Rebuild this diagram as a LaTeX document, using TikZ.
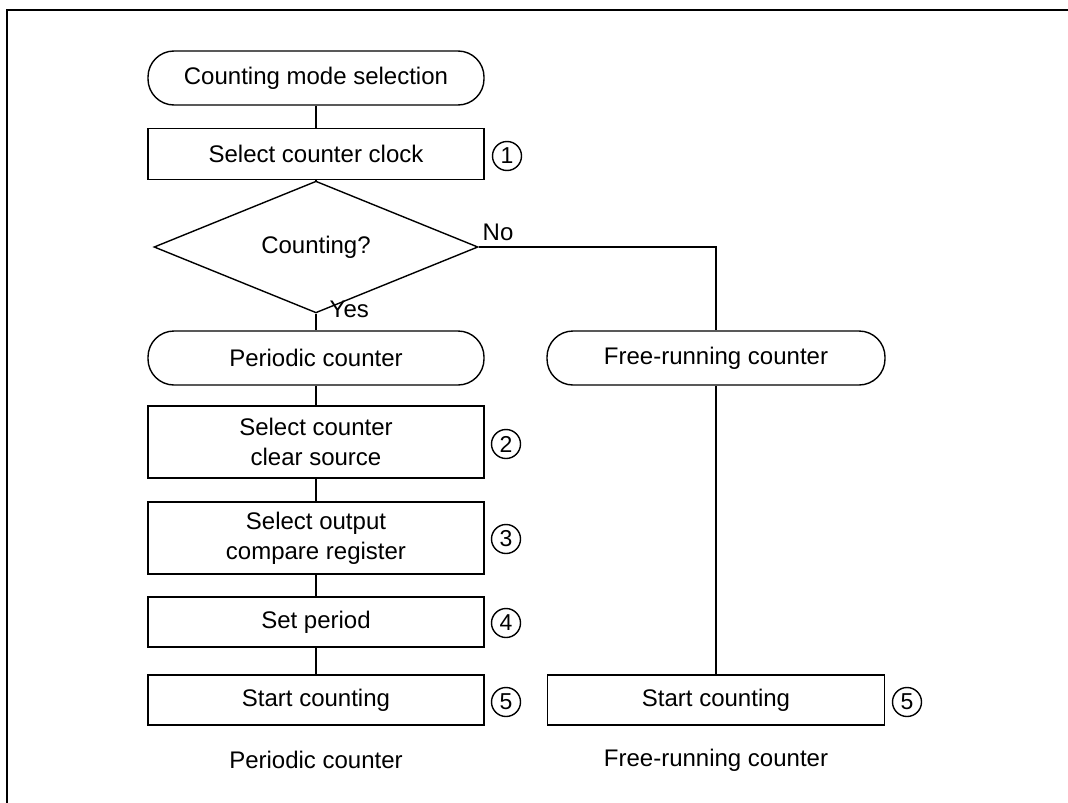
\documentclass[tikz,border=0pt]{standalone}
\usepackage{fontspec}
\setmainfont{Liberation Sans}
\usetikzlibrary{shapes.geometric}
\begin{document}
\begin{tikzpicture}[x=1pt,y=-1pt,
  line width=1.4pt,
  every node/.style={font=\fontsize{24}{30}\selectfont},
  term/.style={draw, rounded corners=26pt, minimum width=336pt, minimum height=54pt, inner sep=0pt},
  proc/.style={draw, minimum width=336pt, minimum height=51pt, inner sep=0pt, align=center},
  proctall/.style={proc, minimum height=72pt},
  dec/.style={draw, diamond, minimum width=324pt, minimum height=94pt, inner sep=0pt},
  num/.style={draw, circle, minimum size=29pt, inner sep=0pt, line width=1.4pt, font=\fontsize{23}{23}\selectfont},
  lbl/.style={inner sep=0pt}]
\useasboundingbox (0,0) rectangle (1068,803);
\draw[line width=2pt] (7,803) -- (7,10) -- (1068,10);

\node[term] (t1) at (316,78) {Counting mode selection};
\node[proc] (b1) at (316,154) {Select counter clock};
\node[num] (n1) at (507,156) {1};
\node[dec] (d) at (316,247) {Counting?};
\node[term] (t2) at (316,358) {Periodic counter};
\node[proctall] (b2) at (316,442) {Select counter\\clear source};
\node[num] (n2) at (506,444) {2};
\node[proctall] (b3) at (316,538) {Select output\\compare register};
\node[num] (n3) at (506,539) {3};
\node[proc, minimum height=50pt] (b4) at (316,622) {Set period};
\node[num] (n4) at (506,623) {4};
\node[proc, minimum height=50pt] (b5) at (316,700) {Start counting};
\node[num] (n5) at (506,702) {5};
\node[term, minimum width=338pt] (t3) at (716,358) {Free-running counter};
\node[proc, minimum width=337pt, minimum height=50pt] (r5) at (716,700) {Start counting};
\node[num] (n6) at (907,702) {5};
\node[lbl] (l1) at (316,760) {Periodic counter};
\node[lbl] (l2) at (716,760) {Free-running counter};
\node[lbl, anchor=west] (yes) at (329,309) {Yes};
\node[lbl, anchor=west] (no) at (482,232) {No};

\coordinate (c) at (716,247);
\draw (t1) -- (b1);
\draw (b1) -- (d);
\draw (d.south) -- (t2.north);
\draw (d.east) -- (c) -- (t3.north);
\draw (t2) -- (b2);
\draw (b2) -- (b3);
\draw (b3) -- (b4);
\draw (b4) -- (b5);
\draw (t3) -- (r5);
\end{tikzpicture}
\end{document}
